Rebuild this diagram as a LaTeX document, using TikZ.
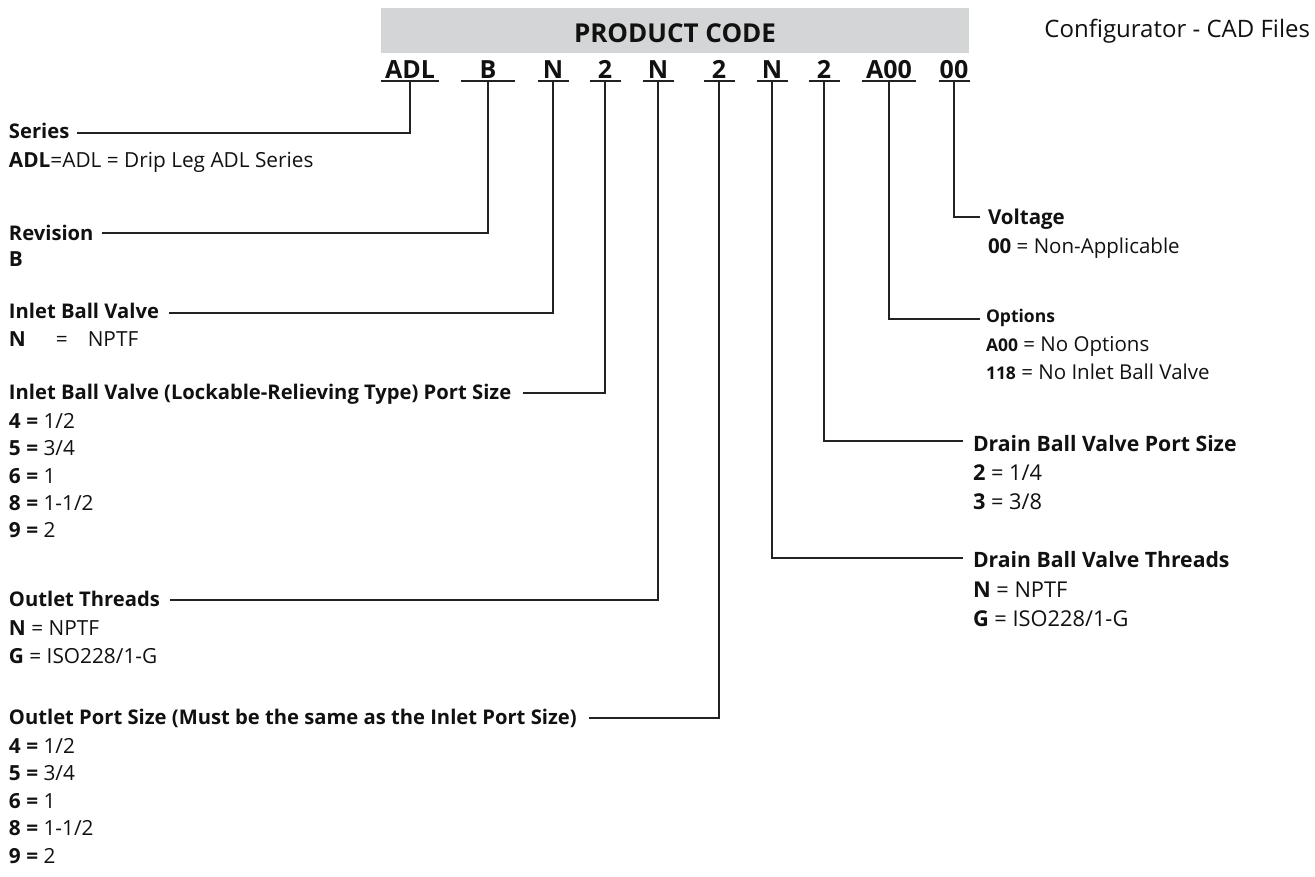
\documentclass[tikz,border=0pt]{standalone}
\usepackage{fontspec}
\setmainfont{Open Sans}
\usetikzlibrary{calc}
\definecolor{bargray}{HTML}{D4D5D6}
\definecolor{ink}{HTML}{111111}
\definecolor{linec}{HTML}{222222}
\tikzset{
  txt/.style={inner sep=0pt, outer sep=0pt, anchor=base west, text=ink, font=\fontsize{20.2}{24}\selectfont},
  ltxt/.style={txt, font=\fontsize{20.8}{24}\selectfont},
  rtxt/.style={txt, font=\fontsize{20.5}{24}\selectfont},
  dtxt/.style={txt, font=\fontsize{21.2}{24}\selectfont},
  dvtxt/.style={txt, font=\fontsize{21.8}{24}\selectfont},
  stxt/.style={txt, font=\fontsize{17.5}{20}\selectfont},
  codech/.style={inner sep=0pt, outer sep=0pt, anchor=base, text=ink, font=\fontsize{25}{28}\selectfont\bfseries},
  uline/.style={draw=linec, line width=1.8pt},
  conn/.style={draw=linec, line width=1.3pt},
}
\begin{document}
\begin{tikzpicture}[x=1pt,y=-1pt]
\useasboundingbox (0,0) rectangle (1315,876);
% header
\fill[bargray] (381,8) rectangle (969,53);
\node[inner sep=0pt, anchor=base, text=ink, font=\fontsize{26}{30}\selectfont\bfseries] (title) at (675,42) {PRODUCT CODE};
\node[txt, anchor=base east, font=\fontsize{24}{28}\selectfont] (cad) at (1310,37) {Configurator - CAD Files};
% code characters
\node[codech] (c1) at (410,78) {ADL};
\node[codech] (c2) at (488,78) {B};
\node[codech] (c3) at (553,78) {N};
\node[codech] (c4) at (605,78) {2};
\node[codech] (c5) at (658,78) {N};
\node[codech] (c6) at (719,78) {2};
\node[codech] (c7) at (772,78) {N};
\node[codech] (c8) at (824,78) {2};
\node[codech] (c9) at (889,78) {A00};
\node[codech] (c10) at (954,78) {00};
% underlines
\draw[uline] ($(c1.base)+(-29,3)$) -- ($(c1.base)+(29,3)$);
\draw[uline] ($(c2.base)+(-27,3)$) -- ($(c2.base)+(27,3)$);
\foreach \n in {c3,c4,c5,c6,c7,c8,c10}{
  \draw[uline] ($(\n.base)+(-15.5,3)$) -- ($(\n.base)+(15.5,3)$);
}
\draw[uline] ($(c9.base)+(-27,3)$) -- ($(c9.base)+(27,3)$);
% left descriptions
\node[txt] (t1) at (9,138) {\textbf{Series}};
\node[ltxt] (v1) at (9,167) {\textbf{ADL}=ADL = Drip Leg ADL Series};
\node[txt] (t2) at (9,240) {\textbf{Revision}};
\node[ltxt] (v2) at (9,266) {\textbf{B}};
\node[txt] (t3) at (9,318) {\textbf{Inlet Ball Valve}};
\node[ltxt] (v3) at (9,346) {\textbf{N}\hspace{30pt}=\hspace{20pt}NPTF};
\node[txt] (t4) at (9,399) {\textbf{Inlet Ball Valve (Lockable-Relieving Type) Port Size}};
\node[ltxt] (v4a) at (9,428) {\textbf{4 =} 1/2};
\node[ltxt] (v4b) at (9,455) {\textbf{5 =} 3/4};
\node[ltxt] (v4c) at (9,483) {\textbf{6 =} 1};
\node[ltxt] (v4d) at (9,510) {\textbf{8 =} 1-1/2};
\node[ltxt] (v4e) at (9,537) {\textbf{9 =} 2};
\node[txt] (t5) at (9,606) {\textbf{Outlet Threads}};
\node[ltxt] (v5a) at (9,635) {\textbf{N} = NPTF};
\node[ltxt] (v5b) at (9,663) {\textbf{G} = ISO228/1-G};
\node[txt] (t6) at (9,724) {\textbf{Outlet Port Size (Must be the same as the Inlet Port Size)}};
\node[ltxt] (v6a) at (9,753) {\textbf{4 =} 1/2};
\node[ltxt] (v6b) at (9,780) {\textbf{5 =} 3/4};
\node[ltxt] (v6c) at (9,808) {\textbf{6 =} 1};
\node[ltxt] (v6d) at (9,835) {\textbf{8 =} 1-1/2};
\node[ltxt] (v6e) at (9,863) {\textbf{9 =} 2};
% right descriptions
\node[rtxt] (t10) at (988,224) {\textbf{Voltage}};
\node[rtxt] (v10) at (988,253) {\textbf{00} = Non-Applicable};
\node[stxt] (t9) at (986,322) {\textbf{Options}};
\node[rtxt] (v9a) at (986,351) {{\fontsize{17.5}{20}\selectfont\textbf{A00}} = No Options};
\node[rtxt] (v9b) at (986,379) {{\fontsize{17.5}{20}\selectfont\textbf{118}} = No Inlet Ball Valve};
\node[dtxt] (t8) at (973,451) {\textbf{Drain Ball Valve Port Size}};
\node[dvtxt] (v8a) at (973,480) {\textbf{2} = 1/4};
\node[dvtxt] (v8b) at (973,509) {\textbf{3} = 3/8};
\node[dtxt] (t7) at (973,567) {\textbf{Drain Ball Valve Threads}};
\node[dvtxt] (v7a) at (973,597) {\textbf{N} = NPTF};
\node[dvtxt] (v7b) at (973,626) {\textbf{G} = ISO228/1-G};
% corners
\coordinate (k1) at (410,133);
\coordinate (k2) at (488,233);
\coordinate (k3) at (553,313);
\coordinate (k4) at (605,393);
\coordinate (k5) at (658,600);
\coordinate (k6) at (719,718);
\coordinate (k7) at (772,558);
\coordinate (k8) at (824,441);
\coordinate (k9) at (889,319);
\coordinate (k10) at (954,217);
% connectors left
\draw[conn] ($(c1.base)+(0,3)$) -- (k1) -- ($(k1 -| t1.east)+(8,0)$);
\draw[conn] ($(c2.base)+(0,3)$) -- (k2) -- ($(k2 -| t2.east)+(8,0)$);
\draw[conn] ($(c3.base)+(0,3)$) -- (k3) -- ($(k3 -| t3.east)+(10,0)$);
\draw[conn] ($(c4.base)+(0,3)$) -- (k4) -- ($(k4 -| t4.east)+(12,0)$);
\draw[conn] ($(c5.base)+(0,3)$) -- (k5) -- ($(k5 -| t5.east)+(10,0)$);
\draw[conn] ($(c6.base)+(0,3)$) -- (k6) -- ($(k6 -| t6.east)+(12,0)$);
% connectors right
\draw[conn] ($(c7.base)+(0,3)$) -- (k7) -- ($(k7 -| t7.west)+(-10,0)$);
\draw[conn] ($(c8.base)+(0,3)$) -- (k8) -- ($(k8 -| t8.west)+(-10,0)$);
\draw[conn] ($(c9.base)+(0,3)$) -- (k9) -- ($(k9 -| t9.west)+(-6,0)$);
\draw[conn] ($(c10.base)+(0,3)$) -- (k10) -- ($(k10 -| t10.west)+(-8,0)$);
\end{tikzpicture}
\end{document}
